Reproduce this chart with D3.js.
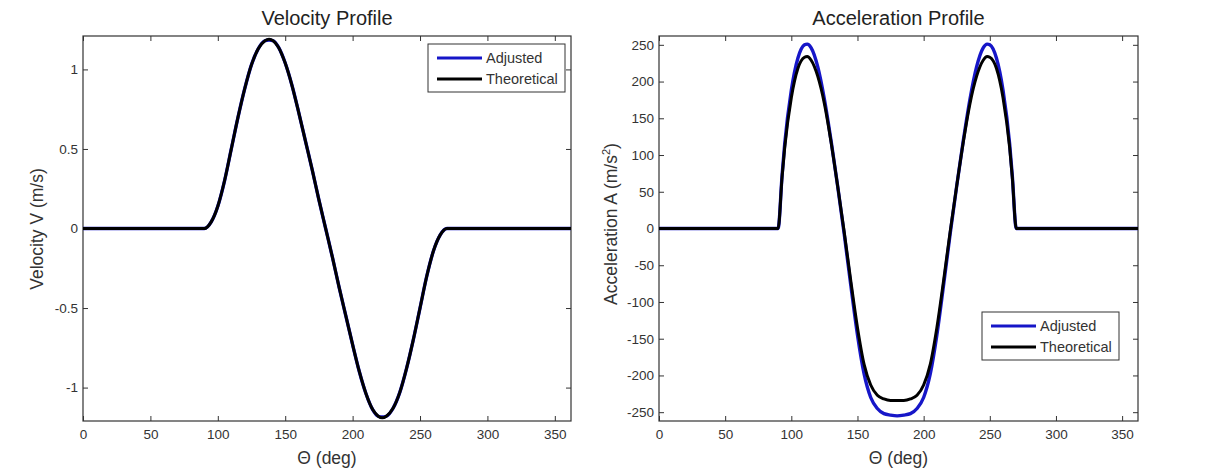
<!DOCTYPE html>
<html>
<head>
<meta charset="utf-8">
<script src="https://cdn.jsdelivr.net/npm/d3@7"></script>
<style>
  html, body { margin: 0; padding: 0; background: #fff; }
  svg text { font-family: Arial, "Liberation Sans", Helvetica, sans-serif; }
</style>
</head>
<body>
<svg id="chart" width="1209" height="476"></svg>
<script>
// data
const xTicks = [0, 50, 100, 150, 200, 250, 300, 350];
const velTicks = [-1, -0.5, 0, 0.5, 1];
const accTicks = [-250, -200, -150, -100, -50, 0, 50, 100, 150, 200, 250];

const velTheta = [0, 85, 90, 95, 100, 105, 110, 115, 120, 125, 130, 135, 138, 141, 145, 150, 155, 160, 165, 170, 175, 180,
  185, 190, 195, 200, 205, 210, 215, 219, 222, 225, 230, 235, 240, 245, 250, 255, 260, 265, 270, 275, 362];
const velTheoretical = [0, 0, 0, 0.04, 0.14, 0.30, 0.50, 0.70, 0.88, 1.03, 1.13, 1.18, 1.19, 1.18, 1.14, 1.04, 0.90, 0.73, 0.55, 0.37, 0.18, 0,
  -0.18, -0.37, -0.55, -0.73, -0.90, -1.04, -1.14, -1.18, -1.19, -1.18, -1.13, -1.03, -0.88, -0.70, -0.50, -0.30, -0.14, -0.04, 0, 0, 0];
const velAdjusted = [0, 0, 0, 0.04, 0.14, 0.30, 0.50, 0.70, 0.88, 1.03, 1.13, 1.18, 1.185, 1.18, 1.14, 1.04, 0.90, 0.73, 0.55, 0.37, 0.18, 0,
  -0.18, -0.37, -0.55, -0.73, -0.90, -1.04, -1.14, -1.18, -1.185, -1.18, -1.13, -1.03, -0.88, -0.70, -0.50, -0.30, -0.14, -0.04, 0, 0, 0];

const accTheta = [0, 88, 90, 93, 95, 100, 105, 110, 112, 115, 120, 125, 130, 135, 140, 145, 150, 155, 160, 165, 170, 175, 180,
  185, 190, 195, 200, 205, 210, 215, 220, 225, 230, 235, 240, 245, 248, 250, 255, 260, 265, 267, 270, 272, 362];
const accTheoretical = [0, 0, 0, 70, 110, 178, 218, 233, 234, 229, 207, 170, 118, 58, -5, -72, -135, -185, -213, -227, -232, -234, -234,
  -234, -232, -227, -213, -185, -135, -72, -5, 58, 118, 170, 207, 229, 234, 233, 218, 178, 110, 70, 0, 0, 0];
const accAdjusted = [0, 0, 0, 72, 115, 188, 232, 250, 251, 246, 220, 176, 120, 58, -8, -78, -145, -198, -230, -245, -252, -254, -255,
  -254, -252, -245, -230, -198, -145, -78, -8, 58, 120, 176, 220, 246, 251, 250, 232, 188, 115, 72, 0, 0, 0];

const seriesNames = ["Adjusted", "Theoretical"];
const seriesColors = ["#1616c8", "#000000"];

const svg = d3.select("#chart");

function panel(opt) {
  const x = d3.scaleLinear().domain([0, 362]).range([opt.left, opt.right]);
  const y = d3.scaleLinear().domain(opt.yDomain).range([421, 36]);
  const g = svg.append("g");

  const axisStyle = sel => {
    sel.select(".domain").remove();
    sel.selectAll("line").attr("stroke", "#333");
    sel.selectAll("text").attr("fill", "#333").attr("font-size", "13.5px").attr("font-family", null);
  };
  const fmt = d => String(d);

  g.append("g").attr("transform", `translate(0,421)`)
    .call(d3.axisBottom(x).tickValues(xTicks).tickSizeInner(-5).tickSizeOuter(0).tickPadding(8).tickFormat(fmt))
    .call(axisStyle);
  g.append("g").attr("transform", `translate(0,36)`)
    .call(d3.axisTop(x).tickValues(xTicks).tickSizeInner(-5).tickSizeOuter(0).tickFormat(""))
    .call(axisStyle);
  g.append("g").attr("transform", `translate(${opt.left},0)`)
    .call(d3.axisLeft(y).tickValues(opt.yTicks).tickSizeInner(-5).tickSizeOuter(0).tickPadding(5).tickFormat(fmt))
    .call(axisStyle);
  g.append("g").attr("transform", `translate(${opt.right},0)`)
    .call(d3.axisRight(y).tickValues(opt.yTicks).tickSizeInner(-5).tickSizeOuter(0).tickFormat(""))
    .call(axisStyle);

  g.append("rect")
    .attr("x", opt.left).attr("y", 36)
    .attr("width", opt.right - opt.left).attr("height", 421 - 36)
    .attr("fill", "none").attr("stroke", "#333").attr("stroke-width", 1.2);

  const line = d3.line().x(d => x(d[0])).y(d => y(d[1])).curve(d3.curveMonotoneX);
  opt.series.forEach((vals, i) => {
    g.append("path")
      .datum(opt.theta.map((t, k) => [t, vals[k]]))
      .attr("fill", "none")
      .attr("stroke", seriesColors[i])
      .attr("stroke-width", i === 0 ? 3.4 : 3)
      .attr("stroke-linejoin", "round")
      .attr("d", line);
  });

  const cx = (opt.left + opt.right) / 2;
  g.append("text").attr("x", cx).attr("y", 25).attr("text-anchor", "middle")
    .attr("font-size", "20px").attr("fill", "#222").text(opt.title);
  g.append("text").attr("x", cx).attr("y", 464).attr("text-anchor", "middle")
    .attr("font-size", "17.5px").attr("fill", "#333").text("Θ (deg)");

  const yl = g.append("text")
    .attr("transform", `translate(${opt.ylabelX},${opt.ylabelY}) rotate(-90)`)
    .attr("text-anchor", "middle").attr("font-size", "17.5px").attr("fill", "#333");
  yl.append("tspan").text(opt.ylabel);
  if (opt.ysup) {
    yl.append("tspan").attr("font-size", "11px").attr("dy", "-7").text(opt.ysup);
    yl.append("tspan").attr("dy", "7").text(")");
  }

  // legend
  const lg = g.append("g").attr("transform", `translate(${opt.legend[0]},${opt.legend[1]})`);
  lg.append("rect").attr("width", 137).attr("height", 48)
    .attr("fill", "#fff").attr("stroke", "#333").attr("stroke-width", 1);
  seriesNames.forEach((name, i) => {
    const yy = 14 + i * 21;
    lg.append("line").attr("x1", 9).attr("x2", 54).attr("y1", yy).attr("y2", yy)
      .attr("stroke", seriesColors[i]).attr("stroke-width", 3);
    lg.append("text").attr("x", 58).attr("y", yy + 5)
      .attr("font-size", "14.5px").attr("fill", "#333").text(name);
  });
}

panel({
  left: 83, right: 571, yDomain: [-1.21, 1.21], yTicks: velTicks,
  theta: velTheta, series: [velAdjusted, velTheoretical],
  title: "Velocity Profile", ylabel: "Velocity V (m/s)", ylabelX: 43, ylabelY: 229,
  legend: [428, 44]
});

panel({
  left: 659, right: 1138, yDomain: [-262, 262], yTicks: accTicks,
  theta: accTheta, series: [accAdjusted, accTheoretical],
  title: "Acceleration Profile", ylabel: "Acceleration A (m/s", ysup: "2", ylabelX: 617, ylabelY: 224,
  legend: [982, 312]
});
</script>
</body>
</html>
